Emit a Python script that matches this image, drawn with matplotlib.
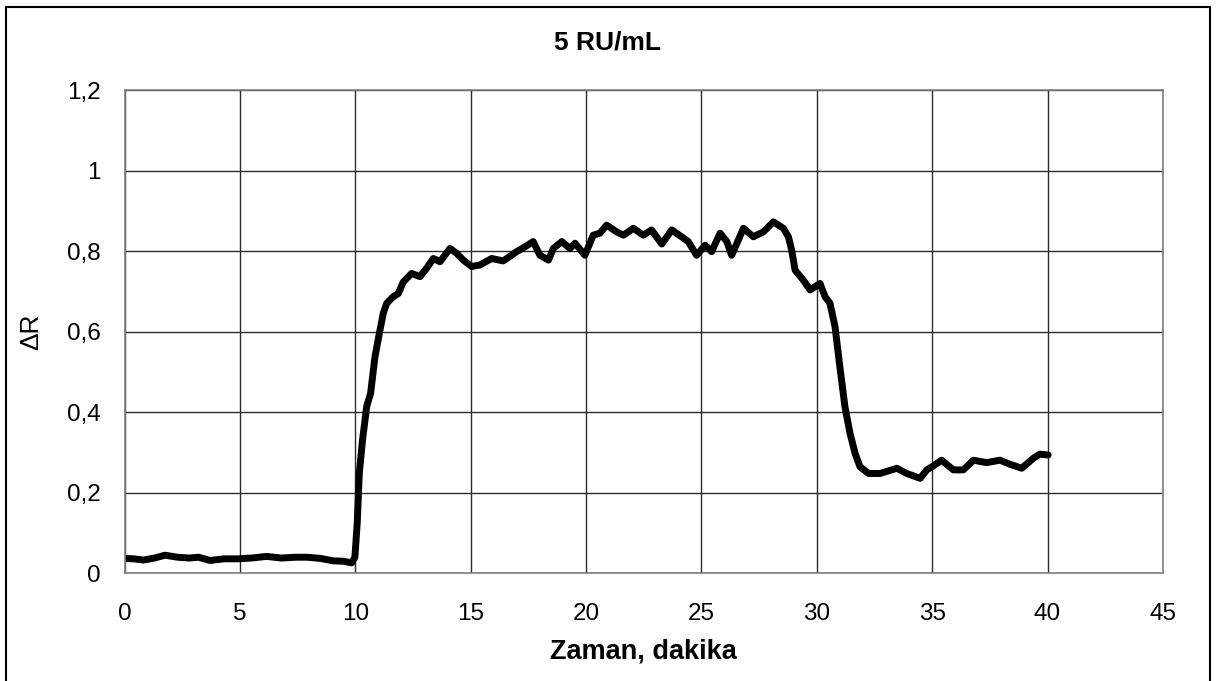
import matplotlib
matplotlib.use("Agg")
import matplotlib.pyplot as plt
from matplotlib.patches import Rectangle
from matplotlib.ticker import FuncFormatter

# time (min) and delta R
zaman = [0.0, 0.4, 0.81, 1.3, 1.75, 2.3, 2.8, 3.2, 3.7, 4.3, 4.9, 5.5, 6.15, 6.8, 7.4, 7.9,
         8.5, 9.04, 9.5, 9.84, 9.98, 10.08, 10.17, 10.31, 10.49, 10.66, 10.85, 11.04,
         11.21, 11.36, 11.64, 11.86, 12.08, 12.44, 12.8, 13.09, 13.38, 13.67, 14.1,
         14.39, 14.68, 15.04, 15.4, 15.91, 16.41, 16.99, 17.35, 17.71, 18.0, 18.37,
         18.58, 18.95, 19.3, 19.52, 19.95, 20.31, 20.6, 20.89, 21.33, 21.62, 22.05,
         22.48, 22.84, 23.28, 23.71, 24.14, 24.43, 24.79, 25.16, 25.44, 25.81, 26.1,
         26.31, 26.6, 26.82, 27.25, 27.68, 28.12, 28.55, 28.77, 28.91, 29.06, 29.42,
         29.71, 30.14, 30.36, 30.57, 30.79, 31.0, 31.22, 31.44, 31.66, 31.87, 32.24,
         32.74, 33.47, 33.9, 34.48, 34.77, 35.0, 35.41, 35.92, 36.35, 36.79, 37.36,
         37.94, 38.37, 38.88, 39.39, 39.67, 40.03]
delta_r = [0.037, 0.036, 0.033, 0.038, 0.045, 0.040, 0.038, 0.040, 0.032, 0.036, 0.036, 0.038, 0.042, 0.038, 0.040, 0.040,
           0.037, 0.031, 0.030, 0.026, 0.040, 0.124, 0.248, 0.331, 0.414, 0.447, 0.538, 0.596,
           0.646, 0.671, 0.687, 0.695, 0.724, 0.745, 0.737, 0.758, 0.782, 0.774, 0.807,
           0.795, 0.778, 0.762, 0.766, 0.782, 0.776, 0.799, 0.811, 0.824, 0.790, 0.778,
           0.807, 0.824, 0.807, 0.820, 0.790, 0.840, 0.845, 0.865, 0.848, 0.840, 0.857,
           0.840, 0.853, 0.818, 0.853, 0.836, 0.824, 0.790, 0.815, 0.799, 0.845, 0.824,
           0.790, 0.828, 0.857, 0.836, 0.848, 0.873, 0.857, 0.836, 0.803, 0.753, 0.728,
           0.704, 0.720, 0.687, 0.671, 0.613, 0.513, 0.414, 0.348, 0.298, 0.265, 0.248,
           0.248, 0.261, 0.248, 0.236, 0.257, 0.265, 0.281, 0.257, 0.257, 0.281, 0.275,
           0.281, 0.271, 0.261, 0.286, 0.296, 0.294]

x_ticks = [0, 5, 10, 15, 20, 25, 30, 35, 40, 45]
y_ticks = [0, 0.2, 0.4, 0.6, 0.8, 1.0, 1.2]

plt.rcParams['font.family'] = ['Liberation Sans', 'DejaVu Sans']

fig = plt.figure(figsize=(12.16, 6.81), dpi=100)
ax = fig.add_axes([0.1025, 0.1581, 0.8538, 0.7094])

ax.plot(zaman, delta_r, color='black', linewidth=5, solid_capstyle='round', solid_joinstyle='round')

ax.set_xlim(0, 45)
ax.set_ylim(0, 1.2)
ax.set_xticks(x_ticks)
ax.set_yticks(y_ticks)
ax.yaxis.set_major_formatter(FuncFormatter(lambda v, p: ('%g' % round(v, 1)).replace('.', ',')))
ax.tick_params(length=0, labelsize=17.5, pad=17)
ax.tick_params(axis='x', pad=21)
ax.grid(True, color='#2b2b2b', linewidth=1.0)
ax.set_axisbelow(True)
for s in ax.spines.values():
    s.set_color('#808080')
    s.set_linewidth(1.2)

fig.text(0.5, 0.9376, '5 RU/mL', ha='center', va='center', fontsize=19, fontweight='bold')
fig.text(0.5295, 0.0426, 'Zaman, dakika', ha='center', va='center', fontsize=19.5, fontweight='bold')
fig.text(0.0255, 0.5125, 'ΔR', rotation=90, ha='center', va='center', fontsize=19)

# outer frame like the excel chart border
fig.patches.append(Rectangle((0.005, -0.05), 0.99, 1.04, transform=fig.transFigure,
                             fill=False, edgecolor='black', linewidth=1.5))

fig.savefig("out.png", dpi=100)
